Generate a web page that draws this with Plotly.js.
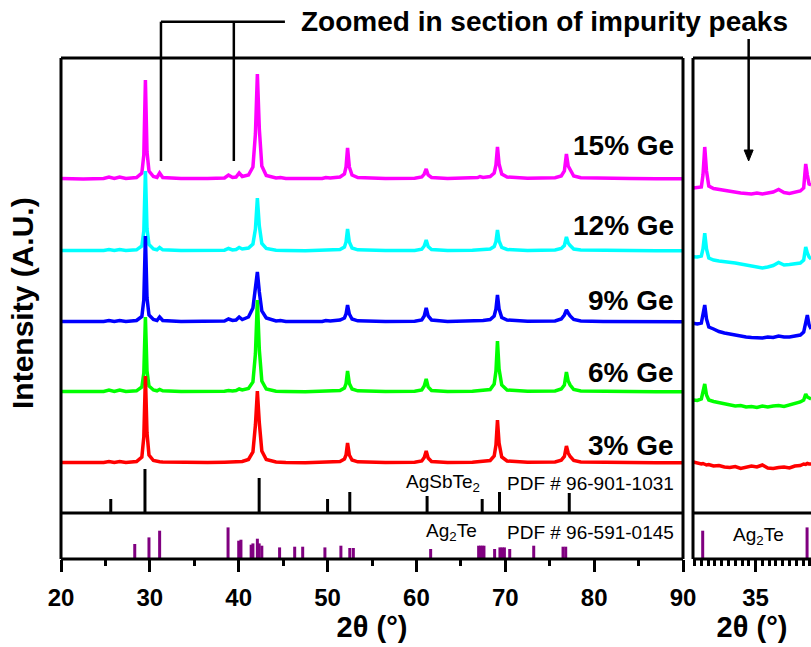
<!DOCTYPE html>
<html><head><meta charset="utf-8">
<script src="https://cdn.plot.ly/plotly-3.0.1.min.js"></script>
<style>html,body{margin:0;padding:0;background:#fff}</style>
</head><body><div id="chart" style="width:811px;height:647px"></div>
<script>
// ---- data ----
const twoTheta = [20,22.5,24.8,25.4,26.0,26.6,27.3,28.5,29.1,29.32,29.5,29.68,29.9,30.4,30.8,31.1,31.45,33.5,36.5,38.4,38.85,39.3,39.7,40.05,40.4,41.1,41.6,41.88,42.1,42.32,42.6,43.1,44.2,44.7,45.3,47.5,49.4,49.8,50.3,51.4,51.9,52.08,52.25,52.45,52.75,53.4,56.5,59.8,60.6,60.88,61.1,61.32,61.7,63.5,66.3,66.9,67.15,67.5,68.3,68.75,68.95,69.12,69.3,69.6,70.2,72.5,75.6,76.3,76.65,76.88,77.08,77.3,77.7,78.5,81,84,87,90];
const ge15 = [0.5,0,0.5,2,0.5,2,0.5,1.5,6,24, 99,27,8,2.5,1.5,6,1.5,0.5,0.5,1, 4,1.5,2,6,2.5,4,12,45,105,50, 13,3.5,1,1.5,0.5,0.5,0.5,1.5,1,2, 5,12,31,12,4,1.5,0.5,0.8,2,5, 10,4,1.5,0.5,1,1.5,2.5,1.5,2.5,6, 14,32,15,5,2,0.8,1.2,3,8,25, 13,9,3,1.2,0.5,0.5,0.3,0.3];
const ge12 = [0.5,0.3,0.5,1.5,0.5,1.5,0.5,1.2,5,20, 80,22,6.5,2,1.2,3.5,1.2,0.5,0.3,0.8, 2.5,1,1.5,3.5,2,3,7,22,53,25, 7.5,2.5,0.8,1,0.5,0.3,0.5,1,0.8,1.5, 4,9,22,9,3,1.2,0.5,0.6,1.8,5, 11,4.5,1.5,0.5,0.8,1.2,1.8,1.2,2,4.5, 9.5,21,10,3.5,1.5,0.6,1,2.5,5.5,14, 8,5.5,2,1,0.5,0.4,0.3,0.3];
const ge9 = [0.5,0.3,0.5,1.5,0.5,1.5,0.5,1.5,5.5,22, 86,24,7,2.5,1.5,5,1.5,0.5,0.5,1, 3,1.5,2,5,2.5,5,14,36,50,30, 11,4,1,1.5,0.5,0.5,0.5,1.5,1,2, 4,8,17,8,3,1.2,0.5,0.8,2,6, 14,6,2,0.5,1,1.5,2,1.5,2.5,6, 13,27,13,4.5,2,0.8,1,3,7,12, 9,6,2.5,1,0.5,0.5,0.3,0.3];
const ge6 = [0.5,0.3,0.5,2,0.5,2,0.5,1.2,5,19, 75,21,6,2,1.2,2.5,1.2,0.5,0.5,0.8, 1.5,1,1.5,3,2,3.5,10,38,92,42, 11,3,0.8,1,0.5,0.3,0.5,1,0.8,1.5, 4,8.5,21,8.5,3,1.2,0.5,0.7,2,6, 13,5,1.5,0.5,0.8,1.2,1.5,1.2,2.5,8, 21,51,23,7,2,0.8,1,3,7,20, 11,7,2.5,1,0.5,0.4,0.3,0.3];
const ge3 = [0.5,0.3,0.5,1.5,0.5,1.5,0.5,1.5,6,26, 87,30,8,2.5,1.5,1.2,1,0.5,0.5,0.8, 1,1,1.2,1.5,1.5,3.5,11,38,72,40, 12,3.5,1,0.8,0.5,0.3,0.5,0.8,0.8,1.5, 4,8,20,8,3,1.2,0.5,0.7,2,5.5, 12,5,1.5,0.5,0.8,1.2,1.2,1.2,2.5,7, 18,43,20,6,2,0.8,1,2.8,6.5,17, 10,6.5,2.5,1,0.5,0.4,0.3,0.3];
const sampleLabels = ['15% Ge','12% Ge','9% Ge','6% Ge','3% Ge'];

// zoomed-in section (impurity peaks)
const zoomTwoTheta = [30.4,30.7,31.0,31.12,31.25,31.38,31.55,31.9,32.3,32.7,33.1,33.5,33.9,34.3,34.7,35.1,35.5,35.9,36.3,36.7,37.1,37.5,37.9,38.3,38.55,38.7,38.82,38.95,39.1];
const zoom15 = [5,5.5,6,18,46,22,7,4.5,3.5,3, 2,1,0,-0.5,-1,0,-1,0,1,3.5, 0.5,-0.5,0.5,2,5,29,18,9,8];
const zoom12 = [6.3,6,7,14,29.7,14,5,3,2,1.5, 0.5,0,-1,-2,-3,-4.5,-5,-4,-2.5,0.5, -2,-1.5,-0.5,0,3,16,10,6,4];
const zoom9  = [11.7,11,12,20,30,16,8,6,3.5,2, 1,-0.5,-1.5,-2,-2.5,-3,-3,-2,-2.5,-1, -2,-2,-1,0,3,14,20,10,6];
const zoom6  = [5,4.5,6,13,21,10,5,3.5,2.5,1, 0,-1,-0.5,-2,-1.5,-2.5,-1,-2,-1,-0.5, -1.5,0,1.5,3,5,11,8,7,6];
const zoom3  = [6,5,4,4.5,3.5,3,3.5,2,2.5,1, 0.5,1.5,-0.5,0.5,2,1,3,0,-0.5,0.5, 1,0,2,2.5,4,3.5,4.5,4,4];

// reference patterns
const agsbte2Pos = [25.6,29.45,42.3,50.0,52.5,61.2,67.4,69.35,77.2];
const agsbte2Int = [14,44,35,14,21,17,14,21,20];
const ag2tePos = [28.3,29.9,31.1,38.8,40.0,40.25,41.4,41.6,42.1,42.3,42.6,44.6,46.3,47.2,49.7,51.5,52.5,52.9,61.6,67.0,67.2,67.4,67.6,68.8,69.4,69.65,69.9,70.5,73.2,76.5,76.8];
const ag2teInt = [15,21.6,28.3,31.6,18.3,19.3,14.3,15.6,20.3,15.6,13.3,11.6,12.3,12.3,11.6,13.3,11,11,10,13.3,13.3,13.3,13.3,10,11.6,11.6,11.6,10,13.3,12.3,12.3];

// ---- drawing ----
const FONT = 'Liberation Sans, Arial, Helvetica, sans-serif';
const colors = ['#FF00FF','#00FFFF','#0000FF','#00FF00','#FF0000'];
const offsets = [334,262,191,121,50];
const zoomOffsets = [320,250,178,108,45];
const labelLift = [34,26,22,20,18];
const series = [ge15,ge12,ge9,ge6,ge3];
const zoomSeries = [zoom15,zoom12,zoom9,zoom6,zoom3];

const traces = [];
series.forEach((s,i)=>{
  traces.push({x:twoTheta, y:s.map(v=>v+offsets[i]), xaxis:'x', yaxis:'y', mode:'lines',
    line:{color:colors[i], width:3.5}, hoverinfo:'skip'});
});
zoomSeries.forEach((s,i)=>{
  traces.push({x:zoomTwoTheta, y:s.map(v=>v+zoomOffsets[i]), xaxis:'x2', yaxis:'y3', mode:'lines',
    line:{color:colors[i], width:3.5}, hoverinfo:'skip'});
});
function sticks(pos, ints, xa, ya, color){
  const x=[], y=[];
  pos.forEach((p,i)=>{x.push(p,p,null); y.push(0,ints[i],null);});
  return {x, y, xaxis:xa, yaxis:ya, mode:'lines', line:{color, width:3}, hoverinfo:'skip'};
}
traces.push(sticks(agsbte2Pos, agsbte2Int, 'x', 'y', '#000000'));
traces.push(sticks(ag2tePos, ag2teInt, 'x', 'y2', '#800080'));
traces.push(sticks(ag2tePos, ag2teInt, 'x2', 'y4', '#800080'));

const ySplit = 46/501;
const xMainEnd = 622/750;
const xRightStart = 632/750;
const tickFont = {family:FONT, size:24, color:'#000', weight:'bold'};
const titleFont = {family:FONT, size:29, color:'#000', weight:'bold'};

const hidden = {visible:false, showgrid:false, zeroline:false, fixedrange:true};
const layout = {
  width:811, height:647, margin:{l:61, r:0, t:58, b:88},
  paper_bgcolor:'#fff', plot_bgcolor:'#fff', showlegend:false, hovermode:false,
  font:{family:FONT, color:'#000'},
  xaxis:{domain:[0,xMainEnd], range:[20,90], anchor:'y2', showgrid:false, zeroline:false, showline:false,
    ticks:'outside', ticklen:12, tickwidth:3, tickcolor:'#000', tick0:0, dtick:10,
    minor:{dtick:5, ticks:'outside', ticklen:6, tickwidth:3, tickcolor:'#000'},
    tickfont:tickFont, ticklabelstandoff:5,
    title:{text:'2θ (°)', font:titleFont, standoff:2}},
  xaxis2:{domain:[xRightStart,1], range:[30.384,39.09], anchor:'y4', showgrid:false, zeroline:false, showline:false,
    ticks:'outside', ticklen:12, tickwidth:3, tickcolor:'#000', tick0:0, dtick:5,
    minor:{dtick:0.5, ticks:'outside', ticklen:6, tickwidth:3, tickcolor:'#000'},
    tickfont:tickFont, ticklabelstandoff:5,
    title:{text:'2θ (°)', font:titleFont, standoff:2}},
  yaxis:Object.assign({domain:[ySplit,1], range:[0,455], anchor:'x'}, hidden),
  yaxis2:Object.assign({domain:[0,ySplit], range:[0,46], anchor:'x'}, hidden),
  yaxis3:Object.assign({domain:[ySplit,1], range:[0,455], anchor:'x2'}, hidden),
  yaxis4:Object.assign({domain:[0,ySplit], range:[0,46], anchor:'x2'}, hidden),
  shapes:[],
  annotations:[]
};
function line(x0,y0,x1,y1,w){ return {type:'line', xref:'paper', yref:'paper', layer:'above', x0,y0,x1,y1, line:{color:'#000', width:w||3}}; }
// frames
layout.shapes.push(line(0,0,0,1), line(0,1,xMainEnd,1), line(xMainEnd,0,xMainEnd,1), line(0,0,xMainEnd,0), line(0,ySplit,xMainEnd,ySplit));
layout.shapes.push(line(xRightStart,0,xRightStart,1), line(xRightStart,1,1.01,1), line(xRightStart,0,1.01,0), line(xRightStart,ySplit,1.01,ySplit));
// bracket pointing at impurity peaks
const degToPaper = d => (d-20)/70*xMainEnd;
const zoomDegToPaper = d => xRightStart + (d-30.384)/(39.09-30.384)*(1-xRightStart);
const pyToPaper = py => (559-py)/501;
layout.shapes.push(line(degToPaper(31.25), pyToPaper(21.7), degToPaper(45.2), pyToPaper(21.7), 2.5));
layout.shapes.push(line(degToPaper(31.25), pyToPaper(21.7), degToPaper(31.25), pyToPaper(161), 2.5));
layout.shapes.push(line(degToPaper(39.45), pyToPaper(21.7), degToPaper(39.45), pyToPaper(161), 2.5));
// arrow into the zoomed panel
const ax = zoomDegToPaper(34.49);
layout.shapes.push(line(ax, pyToPaper(39), ax, pyToPaper(152), 2.5));
const hw = 4.5/750;
layout.shapes.push({type:'path', xref:'paper', yref:'paper', layer:'above',
  path:`M ${ax-hw},${pyToPaper(150)} L ${ax+hw},${pyToPaper(150)} L ${ax},${pyToPaper(161)} Z`,
  fillcolor:'#000', line:{color:'#000', width:1}});

const A = layout.annotations;
A.push({xref:'paper', yref:'paper', x:0.644, y:pyToPaper(21), text:'Zoomed in section of impurity peaks',
  showarrow:false, xanchor:'center', yanchor:'middle', font:{family:FONT, size:28, weight:'bold', color:'#000'}});
A.push({xref:'paper', yref:'paper', x:-0.052, y:pyToPaper(303), text:'Intensity (A.U.)', textangle:-90,
  showarrow:false, xanchor:'center', yanchor:'middle', font:{family:FONT, size:30, weight:'bold', color:'#000'}});
sampleLabels.forEach((t,i)=>{
  A.push({xref:'x', yref:'y', x:89.2, y:offsets[i]+labelLift[i], text:t, showarrow:false,
    xanchor:'right', yanchor:'middle', font:{family:FONT, size:28, weight:'bold', color:'#000'}});
});
const refFont = {family:FONT, size:19, color:'#000'};
A.push({xref:'x', yref:'y', x:63.0, y:30, text:'AgSbTe<sub>2</sub>', showarrow:false, xanchor:'center', yanchor:'middle', font:refFont});
A.push({xref:'x', yref:'y', x:79.6, y:30, text:'PDF # 96-901-1031', showarrow:false, xanchor:'center', yanchor:'middle', font:refFont});
A.push({xref:'x', yref:'y2', x:64.0, y:27, text:'Ag<sub>2</sub>Te', showarrow:false, xanchor:'center', yanchor:'middle', font:refFont});
A.push({xref:'x', yref:'y2', x:79.6, y:27, text:'PDF # 96-591-0145', showarrow:false, xanchor:'center', yanchor:'middle', font:refFont});
A.push({xref:'x2', yref:'y4', x:35.18, y:23, text:'Ag<sub>2</sub>Te', showarrow:false, xanchor:'center', yanchor:'middle', font:refFont});

Plotly.newPlot('chart', traces, layout, {staticPlot:true, displayModeBar:false});
</script></body></html>
